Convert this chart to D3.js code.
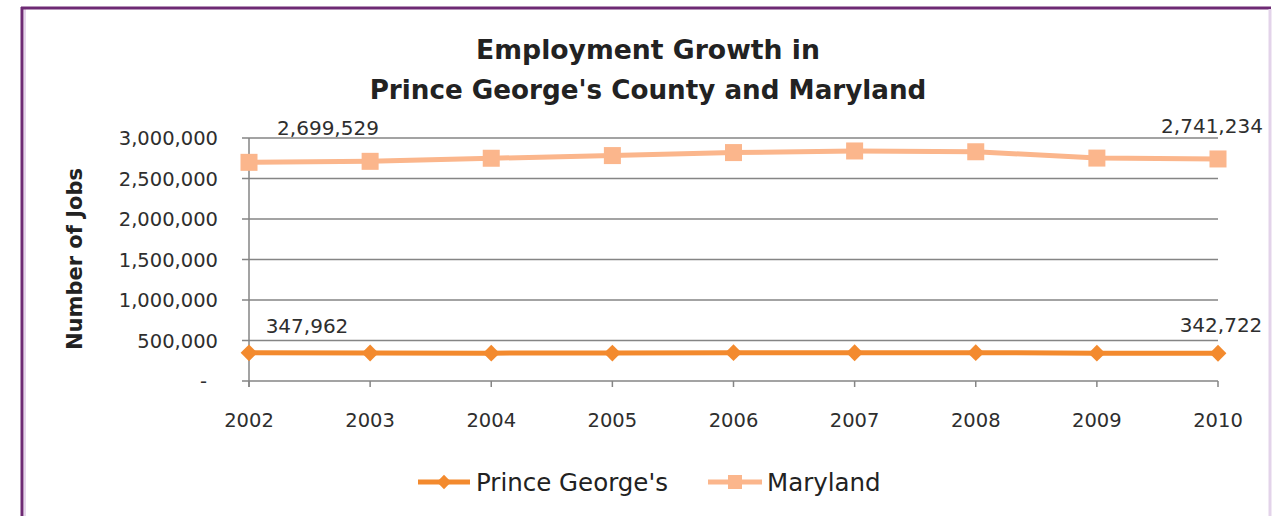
<!DOCTYPE html>
<html>
<head>
<meta charset="utf-8">
<script src="https://cdn.jsdelivr.net/npm/d3@7"></script>
<style>
  body { margin: 0; background: #fff; }
  svg text { font-family: "DejaVu Sans", sans-serif; fill: #222; }
</style>
</head>
<body>
<div id="chart"></div>
<script>
// years on the x axis
var years = ["2002", "2003", "2004", "2005", "2006", "2007", "2008", "2009", "2010"];

// jobs per year (end points are labelled)
var princeGeorges = [347962, 346000, 344000, 345000, 350000, 349000, 350000, 344000, 342722];
var maryland = [2699529, 2712000, 2750000, 2783000, 2820000, 2840000, 2830000, 2752000, 2741234];

// y axis ticks
var yTicks = [0, 500000, 1000000, 1500000, 2000000, 2500000, 3000000];

var titleLines = ["Employment Growth in", "Prince George's County and Maryland"];

var pgColor = "#f38a2e",
    mdColor = "#fbb68c";

var W = 1287, H = 516;

var svg = d3.select("#chart").append("svg")
  .attr("width", W)
  .attr("height", H);

// frame round the chart
svg.append("line").attr("x1", 22).attr("x2", 22).attr("y1", 7).attr("y2", H)
  .style("stroke", "#6e2a74").style("stroke-width", 3);
svg.append("line").attr("x1", 25).attr("x2", 25).attr("y1", 9).attr("y2", H)
  .style("stroke", "#e6d6ec").style("stroke-width", 2);
svg.append("line").attr("x1", 21).attr("x2", 1271).attr("y1", 8).attr("y2", 8)
  .style("stroke", "#6e2a74").style("stroke-width", 3);
svg.append("line").attr("x1", 1270).attr("x2", 1270).attr("y1", 9).attr("y2", H)
  .style("stroke", "#e3d3ea").style("stroke-width", 3);

// scales
var x = d3.scalePoint()
  .domain(years)
  .range([249, 1218]);

var y = d3.scaleLinear()
  .domain([0, 3000000])
  .range([381, 138]);

var fmt = d3.format(",");

// title, two lines, sized to the widths in the picture
var titleWidths = [344, 557];
titleLines.forEach(function(t, i) {
  var el = svg.append("text")
    .attr("x", 648)
    .attr("y", 59 + i * 40)
    .style("text-anchor", "middle")
    .style("font-weight", "bold")
    .style("font-size", "24px")
    .text(t);
  var len = el.node().getComputedTextLength();
  el.style("font-size", (24 * titleWidths[i] / len) + "px");
});

// gridlines
svg.append("g")
  .selectAll("line")
  .data(yTicks)
  .enter().append("line")
  .attr("x1", 242)
  .attr("x2", x.range()[1])
  .attr("y1", function(d) { return y(d); })
  .attr("y2", function(d) { return y(d); })
  .style("stroke", "#858585")
  .style("stroke-width", 1.5);

// y tick labels
svg.append("g")
  .selectAll("text")
  .data(yTicks)
  .enter().append("text")
  .attr("x", function(d) { return d === 0 ? 207 : 218; })
  .attr("y", function(d) { return y(d); })
  .attr("dy", "0.36em")
  .style("text-anchor", "end")
  .style("font-size", "19.5px")
  .style("fill", "#2e2e2e")
  .text(function(d) { return d === 0 ? "-" : fmt(d); });

// y axis line
svg.append("line")
  .attr("x1", x(years[0])).attr("x2", x(years[0]))
  .attr("y1", y(3000000)).attr("y2", 387)
  .style("stroke", "#858585").style("stroke-width", 1.5);

// x ticks and labels
var xAxis = svg.append("g");
xAxis.selectAll("line")
  .data(years)
  .enter().append("line")
  .attr("x1", function(d) { return x(d); })
  .attr("x2", function(d) { return x(d); })
  .attr("y1", y(0))
  .attr("y2", 387)
  .style("stroke", "#858585")
  .style("stroke-width", 1.5);
xAxis.selectAll("text")
  .data(years)
  .enter().append("text")
  .attr("x", function(d) { return x(d); })
  .attr("y", 427)
  .style("text-anchor", "middle")
  .style("font-size", "19.5px")
  .style("fill", "#2e2e2e")
  .text(function(d) { return d; });

// y axis title
svg.append("text")
  .attr("transform", "translate(82,259) rotate(-90)")
  .style("text-anchor", "middle")
  .style("font-weight", "bold")
  .style("font-size", "21px")
  .text("Number of Jobs");

var line = d3.line()
  .x(function(d, i) { return x(years[i]); })
  .y(function(d) { return y(d); });

// Maryland line + squares
svg.append("path")
  .datum(maryland)
  .attr("d", line)
  .style("fill", "none")
  .style("stroke", mdColor)
  .style("stroke-width", 5);

svg.selectAll(".md")
  .data(maryland)
  .enter().append("rect")
  .attr("class", "md")
  .attr("x", function(d, i) { return x(years[i]) - 8.5; })
  .attr("y", function(d) { return y(d) - 8.5; })
  .attr("width", 17)
  .attr("height", 17)
  .style("fill", mdColor);

// Prince George's line + diamonds
svg.append("path")
  .datum(princeGeorges)
  .attr("d", line)
  .style("fill", "none")
  .style("stroke", pgColor)
  .style("stroke-width", 5);

svg.selectAll(".pg")
  .data(princeGeorges)
  .enter().append("path")
  .attr("class", "pg")
  .attr("d", d3.symbol().type(d3.symbolDiamond2).size(180))
  .attr("transform", function(d, i) { return "translate(" + x(years[i]) + "," + y(d) + ")"; })
  .style("fill", pgColor);

// labels on first and last points (shifted like the original)
var labels = [
  { v: maryland[0], i: 0, dx: 79, y: 135 },
  { v: maryland[8], i: 8, dx: -6, y: 133 },
  { v: princeGeorges[0], i: 0, dx: 58, y: 333 },
  { v: princeGeorges[8], i: 8, dx: 3, y: 332 }
];
svg.selectAll(".lbl")
  .data(labels)
  .enter().append("text")
  .attr("class", "lbl")
  .attr("x", function(d) { return x(years[d.i]) + d.dx; })
  .attr("y", function(d) { return d.y; })
  .style("text-anchor", "middle")
  .style("font-size", "20px")
  .style("fill", "#2e2e2e")
  .text(function(d) { return fmt(d.v); });

// legend
var legend = svg.append("g");
var pgL = legend.append("g").attr("transform", "translate(418,482)");
pgL.append("line").attr("x1", 0).attr("x2", 52)
  .style("stroke", pgColor).style("stroke-width", 5);
pgL.append("path")
  .attr("d", d3.symbol().type(d3.symbolDiamond2).size(130))
  .attr("transform", "translate(26,0)")
  .style("fill", pgColor);
pgL.append("text").attr("x", 58).attr("dy", "0.36em")
  .style("font-size", "24.5px").text("Prince George's");

var mdL = legend.append("g").attr("transform", "translate(708,482)");
mdL.append("line").attr("x1", 0).attr("x2", 54)
  .style("stroke", mdColor).style("stroke-width", 5);
mdL.append("rect").attr("x", 20).attr("y", -7).attr("width", 14).attr("height", 14)
  .style("fill", mdColor);
mdL.append("text").attr("x", 59).attr("dy", "0.36em")
  .style("font-size", "24.5px").text("Maryland");
</script>
</body>
</html>
